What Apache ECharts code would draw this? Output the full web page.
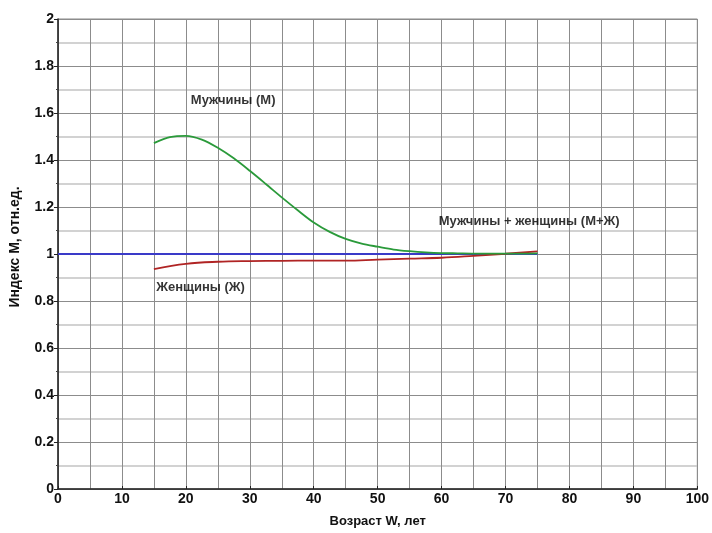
<!DOCTYPE html>
<html>
<head>
<meta charset="utf-8">
<script src="https://cdn.jsdelivr.net/npm/echarts@6/dist/echarts.min.js"></script>
<style>html,body{margin:0;padding:0;background:#fff}#c{width:712px;height:533px}</style>
</head>
<body>
<div id="c"></div>
<script>
var menAges = [15, 17.5, 20, 22.5, 25, 27.5, 30, 32.5, 35, 37.5, 40, 42.5, 45, 47.5, 50, 52.5, 55, 57.5, 60, 62.5, 65, 67.5, 70, 72.5, 75];
var menValues = [1.472, 1.497, 1.503, 1.487, 1.452, 1.407, 1.354, 1.298, 1.241, 1.186, 1.134, 1.094, 1.064, 1.044, 1.031, 1.019, 1.012, 1.007, 1.004, 1.003, 1.002, 1.002, 1.002, 1.002, 1.003];
var womenAges = [15, 20, 25, 30, 35, 40, 45, 50, 55, 60, 65, 70, 75];
var womenValues = [0.936, 0.958, 0.967, 0.970, 0.971, 0.972, 0.972, 0.976, 0.980, 0.984, 0.992, 1.001, 1.011];
var totalAges = [0, 75];
var totalValues = [1.0, 1.0];
var labelTexts = ['Мужчины (М)', 'Женщины (Ж)', 'Мужчины + женщины (М+Ж)'];
var labelX = [27.4, 22.3, 73.7];
var labelY = [1.652, 0.857, 1.137];

function pairs(xs, ys) { return xs.map(function (x, i) { return [x, ys[i]]; }); }

var font = 'Liberation Sans, Arial, sans-serif';
var chart = echarts.init(document.getElementById('c'), null, {renderer: 'canvas'});
chart.setOption({
  backgroundColor: '#ffffff',
  animation: false,
  grid: {left: 57, right: 14, top: 19, bottom: 44, show: true, borderColor: '#888', borderWidth: 1},
  xAxis: {
    type: 'value', min: 0, max: 100, interval: 10,
    name: 'Возраст W, лет', nameLocation: 'middle', nameGap: 26,
    nameTextStyle: {fontFamily: font, fontWeight: 'bold', fontSize: 13, color: '#111'},
    axisLine: {show: true, onZero: false, lineStyle: {color: '#222', width: 1.5}},
    axisTick: {show: true, inside: true, length: 3, lineStyle: {color: '#222'}},
    axisLabel: {fontFamily: font, fontWeight: 'bold', fontSize: 14, color: '#111', margin: 3},
    splitLine: {show: true, lineStyle: {color: '#8c8c8c', width: 1}},
    minorTick: {show: false, splitNumber: 2},
    minorSplitLine: {show: true, lineStyle: {color: '#8c8c8c', width: 1}}
  },
  yAxis: {
    type: 'value', min: 0, max: 2, interval: 0.2,
    name: 'Индекс М, отн.ед.', nameLocation: 'middle', nameGap: 36,
    nameTextStyle: {fontFamily: font, fontWeight: 'bold', fontSize: 14, color: '#111', padding: [0, 0, 0, 14]},
    axisLine: {show: true, onZero: false, lineStyle: {color: '#222', width: 1.5}},
    axisTick: {show: true, length: 4, lineStyle: {color: '#222'}},
    minorTick: {show: true, splitNumber: 2, length: 2, lineStyle: {color: '#444'}},
    axisLabel: {fontFamily: font, fontWeight: 'bold', fontSize: 14, color: '#111', margin: 4,
      formatter: function (v) { return String(Math.round(v * 10) / 10); }},
    splitLine: {show: true, lineStyle: {color: '#8c8c8c', width: 1}},
    minorSplitLine: {show: true, lineStyle: {color: '#c4c4c4', width: 1.5}}
  },
  series: [
    {type: 'line', data: pairs(totalAges, totalValues), showSymbol: false, lineStyle: {color: '#3a3ac8', width: 1.8}, z: 3},
    {type: 'line', data: pairs(womenAges, womenValues), smooth: 0.4, showSymbol: false, lineStyle: {color: '#b02424', width: 1.8}, z: 4},
    {type: 'line', data: pairs(menAges, menValues), smooth: 0.3, showSymbol: false, lineStyle: {color: '#2a9a3a', width: 1.8}, z: 5},
    {type: 'scatter', symbolSize: 0, silent: true, z: 6,
      data: labelTexts.map(function (t, i) { return {value: [labelX[i], labelY[i]], name: t}; }),
      label: {show: true, position: 'inside', formatter: function (p) { return p.name; },
        fontFamily: font, fontWeight: 'bold', fontSize: 13, color: '#000', textBorderWidth: 0}}
  ]
});
</script>
</body>
</html>
